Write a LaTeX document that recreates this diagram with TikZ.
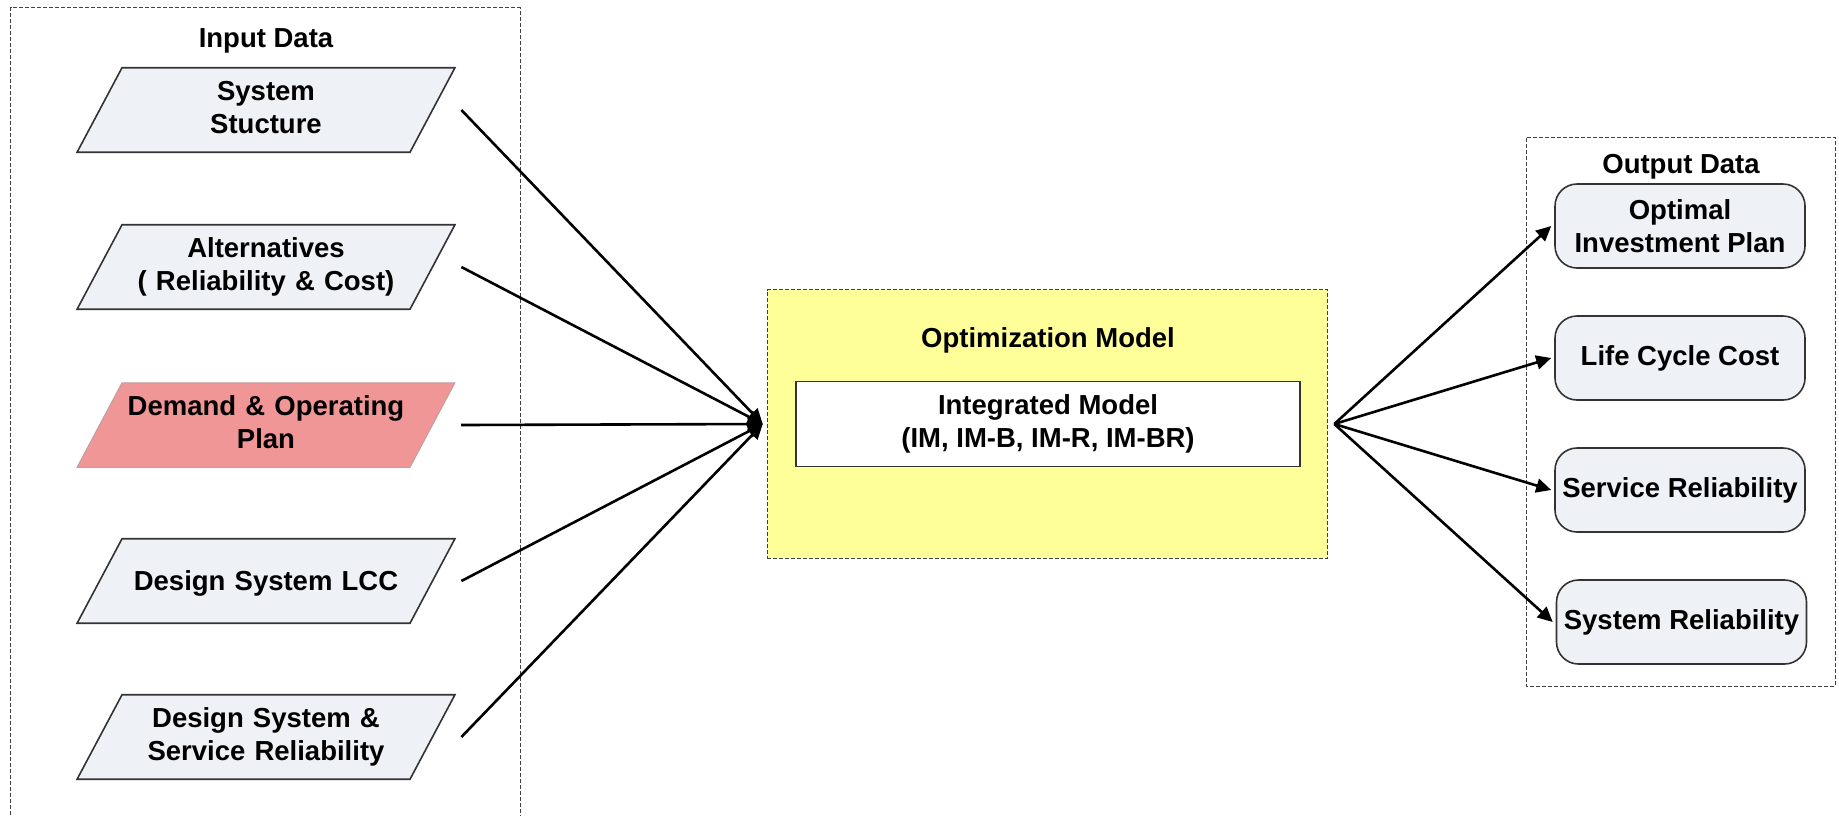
\documentclass[tikz,border=0pt]{standalone}
\usepackage{fontspec}
\setmainfont{Liberation Sans}
\usetikzlibrary{arrows.meta, positioning, shapes.geometric}
\definecolor{paragray}{RGB}{238,241,246}
\definecolor{demandred}{RGB}{241,150,150}
\definecolor{demandedge}{RGB}{190,160,160}
\definecolor{optyellow}{RGB}{255,255,153}

\tikzset{
  databox/.style={trapezium, trapezium left angle=62, trapezium right angle=118,
    draw=black!80, line width=0.8pt, fill=paragray,
    text width=144pt, text height=16.6pt, text depth=25.65pt,
    inner xsep=0pt, inner ysep=0pt, align=center},
  oneline/.style={text height=26.05pt, text depth=16.2pt},
  resultbox/.style={draw=black!80, line width=0.8pt, fill=paragray, rounded corners=11pt,
    minimum width=125pt, minimum height=42pt, align=center},
  groupbox/.style={draw=black!75, line width=0.5pt, dash pattern=on 2pt off 1pt},
  flow/.style={line width=1.3pt, -{Triangle[length=7.5pt,width=7pt]}},
  title/.style={anchor=base},
}

\begin{document}
\begin{tikzpicture}[x=0.5pt, y=-0.5pt,
    every node/.append style={font=\fontsize{13.75pt}{16.5pt}\selectfont\bfseries}]
  \useasboundingbox (0,0) rectangle (1839,815);

  % input data
  \draw[groupbox] (10.5,815) -- (10.5,7.5) -- (520,7.5) -- (520,815);
  \node[title] (intitle) at (266,47) {Input Data};
  \node[databox] (sysstruct) at (266,110) {System\\Stucture};
  \node[databox] (altern) at (266,267) {Alternatives\\( Reliability \& Cost)};
  \node[databox, fill=demandred, draw=demandedge, line width=0.5pt] (demand) at (266,425) {Demand \& Operating\\Plan};
  \node[databox, oneline] (designlcc) at (266,581) {Design System LCC};
  \node[databox] (designrel) at (266,737) {Design System \&\\Service Reliability};

  % optimization model
  \node[groupbox, fill=optyellow, minimum width=280.3pt, minimum height=134.3pt] (opt) at (1047.5,424) {};
  \node[title] (opttitle) at (1048,347) {Optimization Model};
  \node[draw=black!80, line width=0.8pt, fill=white, minimum width=252pt, minimum height=42.5pt,
    align=center] (integ) at (1048,424) {Integrated Model\\(IM, IM-B, IM-R, IM-BR)};

  % output data
  \draw[groupbox] (1526.5,137.5) rectangle (1835,686);
  \node[title] (outtitle) at (1681,173.5) {Output Data};
  \node[resultbox] (optplan) at (1680,226) {Optimal\\Investment Plan};
  \node[resultbox] (lcc) at (1680,358) {Life Cycle Cost};
  \node[resultbox] (servrel) at (1680,490) {Service Reliability};
  \node[resultbox] (sysrel) at (1681.5,622) {System Reliability};

  % connectors
  \foreach \n in {sysstruct, altern, demand, designlcc, designrel}
    \draw[flow] ([xshift=14pt]\n.east) -- ([xshift=-2pt]opt.west);
  \foreach \n in {optplan, lcc, servrel, sysrel}
    \draw[flow] ([xshift=3pt]opt.east) -- ([xshift=-1.5pt]\n.west);
\end{tikzpicture}
\end{document}
